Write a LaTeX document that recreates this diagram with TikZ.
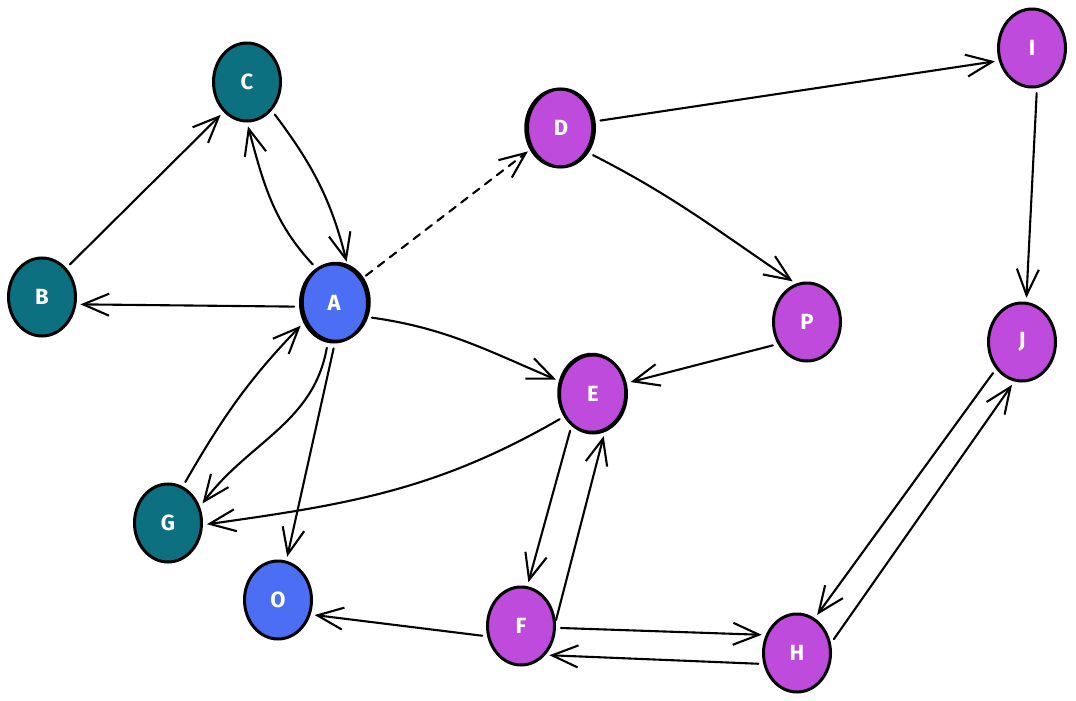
\documentclass[tikz,border=0pt]{standalone}
\usepackage{fontspec}
\setsansfont{Fira Sans}
\usetikzlibrary{shapes.geometric,arrows.meta}
\definecolor{mteal}{HTML}{0C7080}
\definecolor{mblue}{HTML}{4C6EF5}
\definecolor{mpurple}{HTML}{BE4BDB}
\begin{document}
\begin{tikzpicture}[x=1pt,y=1pt,
  vtx/.style={ellipse, draw=black, line width=3pt, minimum width=67pt, minimum height=78pt,
    inner sep=0pt, font=\sffamily\bfseries\fontsize{22}{26}\selectfont, text=white},
  tl/.style={vtx, fill=mteal},
  bl/.style={vtx, fill=mblue},
  pu/.style={vtx, fill=mpurple},
  sk/.style={postaction={draw, line width=2.5pt, transform canvas={shift={#1}}}},
  edge/.style={line width=2.1pt, line cap=round,
    -{Straight Barb[length=26pt,width=22pt,line width=2.1pt]},
    shorten <=5pt, shorten >=4pt},
  dsh/.style={dash pattern=on 8pt off 7pt}
]
\useasboundingbox (0,0) rectangle (1076,-701);

\node[tl] (C) at (247,-82) {C};
\node[tl] (B) at (42,-297) {B};
\node[bl, sk={(2pt,1pt)}] (A) at (334,-303) {A};
\node[tl] (G) at (168,-523) {G};
\node[bl] (O) at (278,-600) {O};
\node[pu, sk={(-2pt,0pt)}] (D) at (561,-128) {D};
\node[pu] (I) at (1032,-48) {I};
\node[pu] (P) at (807,-322) {P};
\node[pu] (J) at (1022,-342) {J};
\node[pu, sk={(-1pt,1pt)}] (E) at (593,-394) {E};
\node[pu] (F) at (521,-626) {F};
\node[pu] (H) at (797,-653) {H};

\draw[edge] (B.50) -- (C.232);
\draw[edge] (A.117) to[out=133,in=-75] (C.270);
\draw[edge] (C.311) to[out=-53,in=104] (A.70);
\draw[edge] (A.186) -- (B.348);
\draw[edge, dsh] (A.41) -- (D.215);
\draw[edge] (D.11) -- (I.201);
\draw[edge] (D.318) to[out=-27,in=146] (P.106);
\draw[edge] (I.277) -- (J.84);
\draw[edge] (P.217) -- (E.18);
\draw[edge] (A.337) to[out=-8,in=157] (E.159);
\draw[edge] (A.261) to[out=-100,in=53] (G.27);
\draw[edge] (G.68) to[out=60,in=226] (A.213);
\draw[edge] (A.271) -- (O.78);
\draw[edge] (E.218) to[out=210,in=8] (G.357);
\draw[edge] (E.236) -- (F.81);
\draw[edge, shorten <=1pt] (F.8) -- (E.287);
\draw[edge] (F.197) -- (O.336);
\draw[edge] (F.357) -- (H.150);
\draw[edge] (H.198) -- (F.310);
\draw[edge] (J.226) -- (H.63);
\draw[edge] (H.16) -- (J.259);
\end{tikzpicture}
\end{document}
